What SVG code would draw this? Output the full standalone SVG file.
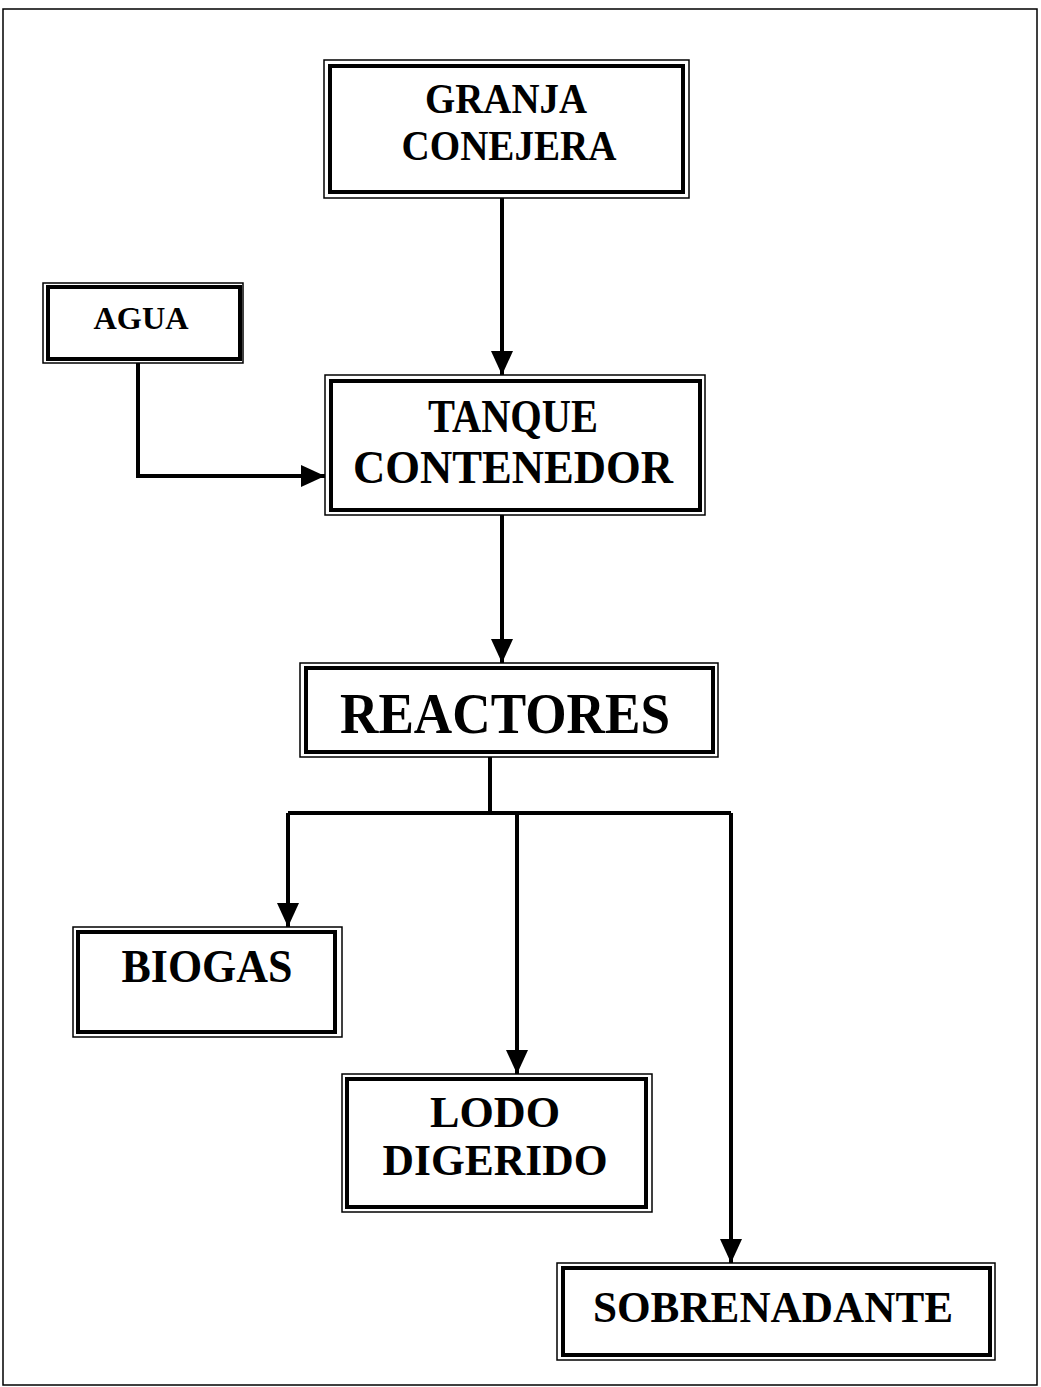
<svg xmlns="http://www.w3.org/2000/svg" width="1041" height="1387" viewBox="0 0 1041 1387">
<style>
.outer{fill:none;stroke:#000;stroke-width:1.5}
.inner{fill:none;stroke:#000;stroke-width:4}
.lbl{font-family:"Liberation Serif","Times New Roman",serif;font-weight:bold;fill:#000;text-anchor:middle}
.conn{fill:none;stroke:#000;stroke-width:4}
.frame{fill:none;stroke:#000;stroke-width:1.5}
</style>
<defs>
<marker id="arr" markerUnits="userSpaceOnUse" markerWidth="24" markerHeight="24" viewBox="0 0 24 24" refX="24" refY="12" orient="auto">
<path d="M0,1 L24,12 L0,23 Z" fill="#000"/>
</marker>
</defs>
<rect class="frame" x="3" y="9" width="1034" height="1376"/>
<g id="connectors">
<path class="conn" d="M502,198 V375" marker-end="url(#arr)"/>
<path class="conn" d="M138,363 V476 H325" marker-end="url(#arr)"/>
<path class="conn" d="M502,515 V663" marker-end="url(#arr)"/>
<path class="conn" d="M490,757 V813"/>
<path class="conn" d="M288,813 H731"/>
<path class="conn" d="M288,813 V927" marker-end="url(#arr)"/>
<path class="conn" d="M517,813 V1074" marker-end="url(#arr)"/>
<path class="conn" d="M731,813 V1263" marker-end="url(#arr)"/>
</g>
<g id="granja">
<rect class="outer" x="324" y="60" width="365" height="138"/>
<rect class="inner" x="330" y="66" width="353" height="126"/>
<text class="lbl" x="506" y="113" font-size="42" textLength="162" lengthAdjust="spacingAndGlyphs">GRANJA</text>
<text class="lbl" x="509" y="160" font-size="42" textLength="215" lengthAdjust="spacingAndGlyphs">CONEJERA</text>
</g>
<g id="agua">
<rect class="outer" x="43" y="283" width="200" height="80"/>
<rect class="inner" x="48" y="287" width="192" height="72"/>
<text class="lbl" x="141" y="329" font-size="31" textLength="95" lengthAdjust="spacingAndGlyphs">AGUA</text>
</g>
<g id="tanque">
<rect class="outer" x="325" y="375" width="380" height="140"/>
<rect class="inner" x="331" y="381" width="369" height="129"/>
<text class="lbl" x="513" y="432" font-size="47" textLength="170" lengthAdjust="spacingAndGlyphs">TANQUE</text>
<text class="lbl" x="513" y="483" font-size="47" textLength="320" lengthAdjust="spacingAndGlyphs">CONTENEDOR</text>
</g>
<g id="reactores">
<rect class="outer" x="300" y="663" width="418" height="94"/>
<rect class="inner" x="306" y="668" width="407" height="84"/>
<text class="lbl" x="505" y="733" font-size="56" textLength="330" lengthAdjust="spacingAndGlyphs">REACTORES</text>
</g>
<g id="biogas">
<rect class="outer" x="73" y="927" width="269" height="110"/>
<rect class="inner" x="78" y="932" width="257" height="100"/>
<text class="lbl" x="207" y="982" font-size="46" textLength="171" lengthAdjust="spacingAndGlyphs">BIOGAS</text>
</g>
<g id="lodo">
<rect class="outer" x="342" y="1074" width="310" height="138"/>
<rect class="inner" x="347" y="1079" width="299" height="128"/>
<text class="lbl" x="495" y="1127" font-size="44" textLength="130" lengthAdjust="spacingAndGlyphs">LODO</text>
<text class="lbl" x="495" y="1175" font-size="44" textLength="225" lengthAdjust="spacingAndGlyphs">DIGERIDO</text>
</g>
<g id="sobrenadante">
<rect class="outer" x="557" y="1263" width="438" height="97"/>
<rect class="inner" x="563" y="1268" width="427" height="87"/>
<text class="lbl" x="773" y="1322" font-size="45" textLength="360" lengthAdjust="spacingAndGlyphs">SOBRENADANTE</text>
</g>
</svg>
